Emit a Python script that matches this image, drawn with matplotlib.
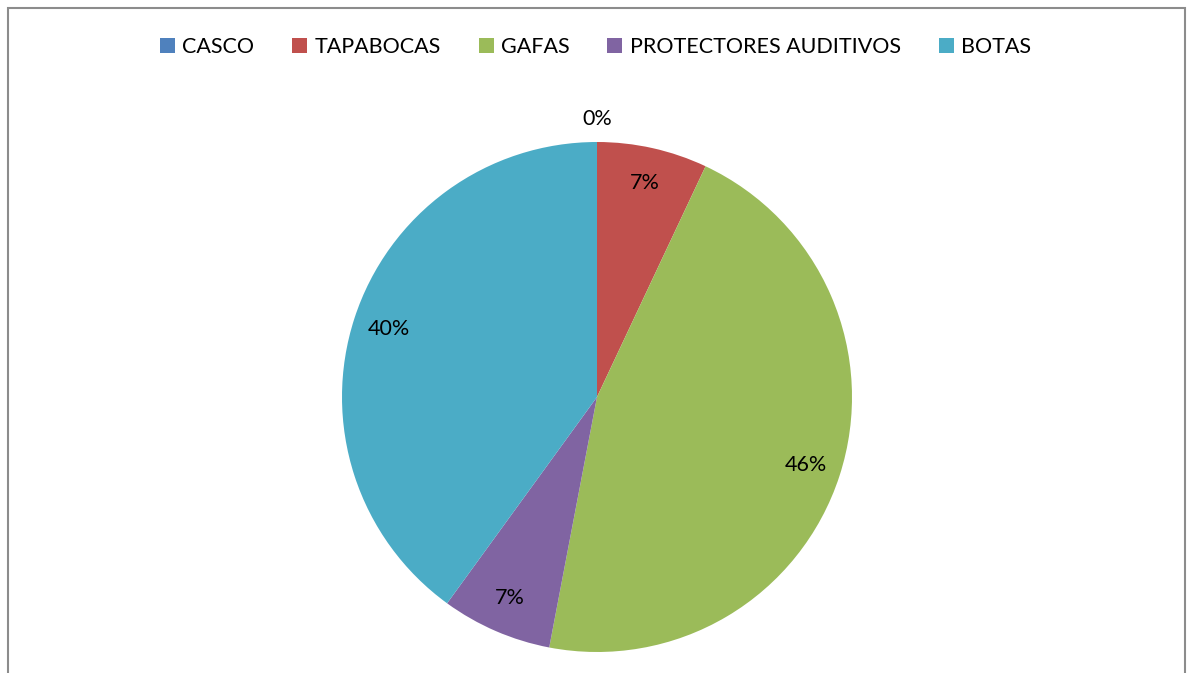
import numpy as np
import matplotlib
matplotlib.use('Agg')
import matplotlib.pyplot as plt
from matplotlib.patches import Rectangle

# data (percent)
labels = ['CASCO', 'TAPABOCAS', 'GAFAS', 'PROTECTORES AUDITIVOS', 'BOTAS']
values = [0, 7, 46, 7, 40]
colors = ['#4F81BD', '#C0504D', '#9BBB59', '#8064A2', '#4BACC6']

plt.rcParams['font.family'] = ['Lato', 'DejaVu Sans']

W, H = 1191, 673
fig = plt.figure(figsize=(W / 100, H / 100), dpi=100)
ax = fig.add_axes([0, 0, 1, 1])
ax.set_aspect('equal')
ax.axis('off')

cx, cy, r = 597, H - 397, 255
wedges, texts, autotexts = ax.pie(
    values, colors=colors, startangle=90, counterclock=False,
    center=(cx, cy), radius=r, autopct='%1.0f%%', pctdistance=0.86,
    textprops={'fontsize': 15.5, 'color': 'black'},
    wedgeprops={'linewidth': 0})
ax.set_xlim(0, W)
ax.set_ylim(0, H)

# zero slice label sits outside the pie
for w, t, v in zip(wedges, autotexts, values):
    if v == 0:
        ang = np.deg2rad((w.theta1 + w.theta2) / 2)
        t.set_position((cx + 1.09 * r * np.cos(ang), cy + 1.09 * r * np.sin(ang)))

fig.legend(wedges, labels, loc='center', bbox_to_anchor=(0.5, 1 - 47 / H), ncol=5,
           frameon=False, fontsize=15.5, handlelength=0.7, handleheight=0.7,
           handletextpad=0.35, columnspacing=1.75)

fig.add_artist(Rectangle((8 / W, -0.02), (1185 - 8) / W, 1.02 - 8 / H,
                         transform=fig.transFigure, fill=False,
                         edgecolor='#8c8c8c', linewidth=1.5))

fig.savefig('out.png', dpi=100)
